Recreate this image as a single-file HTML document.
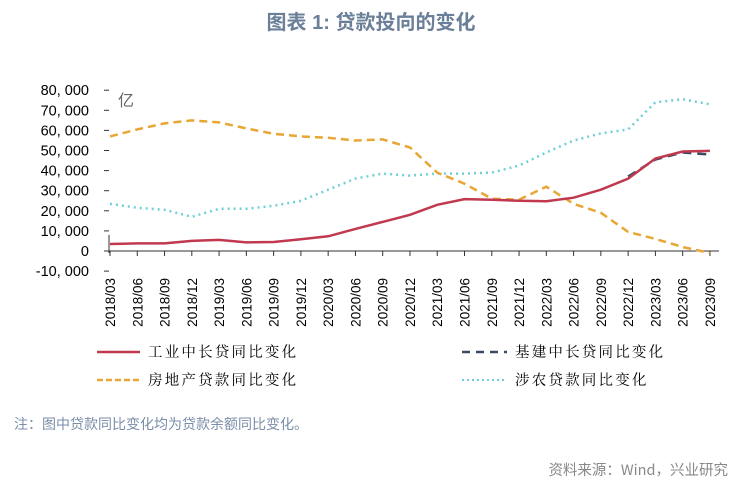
<!DOCTYPE html>
<html><head><meta charset="utf-8"><style>
body{margin:0;background:#fff;width:742px;height:500px;overflow:hidden;font-family:"Liberation Sans","Noto Sans CJK SC",sans-serif}
svg{position:absolute;left:0;top:0}
</style></head><body>
<svg id="s" width="742" height="500" xmlns="http://www.w3.org/2000/svg">
<text x="371" y="29" text-anchor="middle" font-size="20" font-weight="bold" fill="#6b7f99" font-family="Liberation Sans,Noto Sans CJK SC,sans-serif">图表 1:  贷款投向的变化</text>
<text x="118" y="106" font-size="16" fill="#666" font-family="Noto Sans CJK SC,sans-serif">亿</text>
<g id="g"></g>
<g font-family="Noto Serif CJK SC,Noto Sans CJK SC,serif" font-size="14.5" fill="#000" letter-spacing="2.2">
<line x1="97" y1="352" x2="140" y2="352" stroke="#c0394f" stroke-width="2.5"/>
<text x="148" y="357">工业中长贷同比变化</text>
<line x1="462" y1="352" x2="507" y2="352" stroke="#3b4a63" stroke-width="2.5" stroke-dasharray="8,6"/>
<text x="515" y="357">基建中长贷同比变化</text>
<line x1="97" y1="380" x2="140" y2="380" stroke="#e8a634" stroke-width="2.5" stroke-dasharray="6,3"/>
<text x="148" y="385">房地产贷款同比变化</text>
<line x1="462" y1="380" x2="507" y2="380" stroke="#6fcfd6" stroke-width="2" stroke-dasharray="2,3"/>
<text x="515" y="385">涉农贷款同比变化</text>
</g>
<text x="14" y="429" font-size="14" fill="#7a8ea8" font-family="Noto Sans CJK SC,sans-serif">注：图中贷款同比变化均为贷款余额同比变化。</text>
<text x="728" y="475" text-anchor="end" font-size="14.5" fill="#888" font-family="Noto Sans CJK SC,sans-serif">资料来源：Wind，兴业研究</text>
</svg>
<script>
var g=document.getElementById('g'),h='';
function X(i){return 110+27.27*i}
function Y(v){return 251-v*2.01}
for(var k=-1;k<=8;k++){var y=Y(k*10);h+='<line x1="104" y1="'+y+'" x2="109" y2="'+y+'" stroke="#333"/>';
var t=k==0?'0':(k*10)+',000';if(k<0)t='-10,000';
h+='<text x="89" y="'+(y+5)+'" text-anchor="end" font-size="14.5" font-family="Liberation Sans,sans-serif">'+t.replace(',',', ')+'</text>';}
h+='<line x1="109" y1="'+Y(8)+'" x2="109" y2="'+Y(-1)+'" stroke="#333"/>';
h+='<line x1="109" y1="251" x2="719" y2="251" stroke="#333"/>';
var L=[];for(var yy=2018;yy<=2023;yy++)['03','06','09','12'].forEach(function(m){if(L.length<23)L.push(yy+'/'+m)});
for(var i=0;i<23;i++){var x=X(i);h+='<line x1="'+x+'" y1="251" x2="'+x+'" y2="256" stroke="#333"/>';
h+='<text transform="translate('+(x+5)+',278) rotate(-90)" text-anchor="end" font-size="13.5" font-family="Liberation Sans,sans-serif">'+L[i]+'</text>';}
function P(d,off){return d.map(function(v,i){return X(i+off).toFixed(1)+','+Y(v).toFixed(1)}).join(' ')}
var red=[3.5,3.8,3.8,5,5.5,4.3,4.5,5.8,7.3,11,14.5,18,23,25.8,25.5,25,24.8,26.5,30.5,36,46,49.5,49.8];
var nav=[37,45.5,49,48];
var org=[57,60.5,63.5,65,64,61,58.3,57,56.3,55,55.5,51.5,39,33.5,26,25.5,32,23.5,19,9.5,6,2,-1];
var tea=[23.5,21.5,20.5,17,21,21,22.5,25,30.5,36,38.5,37.5,38.5,38.5,39,42.5,49,55,58.5,60.5,74,75.5,73];
h+='<polyline fill="none" stroke="#6fcfd6" stroke-width="2.5" stroke-dasharray="2,4" points="'+P(tea,0)+'"/>';
h+='<polyline fill="none" stroke="#e8a634" stroke-width="2.5" stroke-dasharray="8,5" points="'+P(org,0)+'"/>';
h+='<polyline fill="none" stroke="#3b4a63" stroke-width="2.5" stroke-dasharray="9,6" points="'+P(nav,19)+'"/>';
h+='<polyline fill="none" stroke="#c0394f" stroke-width="2.5" points="'+P(red,0)+'"/>';
g.innerHTML=h;
</script>
</body></html>
